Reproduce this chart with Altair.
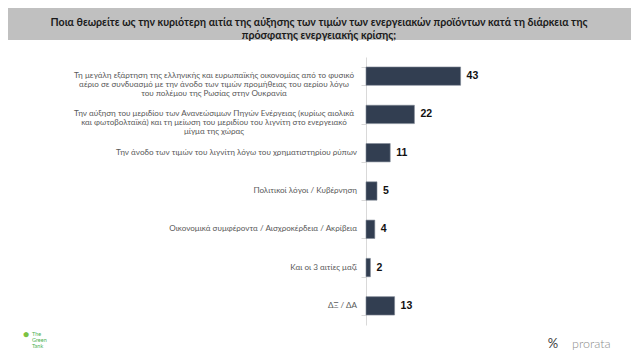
import altair as alt
import pandas as pd

categories = [
    "Τη μεγάλη εξάρτηση της ελληνικής και ευρωπαϊκής οικονομίας από το φυσικό\nαέριο σε συνδυασμό με την άνοδο των τιμών προμήθειας του αερίου λόγω\nτου πολέμου της Ρωσίας  στην Ουκρανία",
    "Την αύξηση του μεριδίου των  Ανανεώσιμων Πηγών Ενέργειας (κυρίως αιολικά\nκαι φωτοβολταϊκά)  και τη μείωση του μεριδίου του λιγνίτη στο  ενεργειακό\nμίγμα της χώρας",
    "Την άνοδο των τιμών του λιγνίτη λόγω του χρηματιστηρίου ρύπων",
    "Πολιτικοί λόγοι / Κυβέρνηση",
    "Οικονομικά συμφέροντα / Αισχροκέρδεια / Ακρίβεια",
    "Και οι 3 αιτίες μαζί",
    "ΔΞ / ΔΑ",
]
values = [43, 22, 11, 5, 4, 2, 13]
title_lines = [
    "Ποια θεωρείτε ως την  κυριότερη αιτία της αύξησης των τιμών των ενεργειακών προϊόντων κατά τη διάρκεια της",
    "πρόσφατης ενεργειακής κρίσης;",
]

df = pd.DataFrame({"label": categories, "value": values})
df["multi"] = df["label"].str.contains("\n")

W, H = 110, 268

y_enc = alt.Y(
    "label:N",
    sort=categories,
    scale=alt.Scale(paddingInner=0.52, paddingOuter=0.26),
    axis=alt.Axis(labels=False, title=None, domainColor="#d9d9d9", tickColor="#d9d9d9",
                  tickBand="extent", tickSize=5, grid=False, domainWidth=1),
)
x_enc = alt.X("value:Q", scale=alt.Scale(domain=[0, 50]), axis=None)

base = alt.Chart(df)

bars = base.mark_bar(color="#323e51", stroke="#7d8694", strokeWidth=0.6).encode(x=x_enc, y=y_enc)

val_text = base.mark_text(
    align="left", baseline="middle", dx=6, font="Liberation Sans", fontWeight="bold",
    fontSize=10.5, color="#111111"
).encode(x=x_enc, y=y_enc, text="value:Q")

lab_single = base.transform_filter("!datum.multi").mark_text(
    align="right", baseline="middle", font="Lato", fontSize=8.1, color="#595959"
).encode(x=alt.value(-9), y=y_enc, text="label:N")

lab_multi = base.transform_filter("datum.multi").mark_text(
    align="center", baseline="middle", font="Lato", fontSize=8.1, color="#595959",
    lineBreak="\n", lineHeight=9
).encode(x=alt.value(-152), y=y_enc, text="label:N")

one = alt.Chart(pd.DataFrame({"k": [0]}))

banner = one.mark_rect(color="#c0c0c0").encode(
    x=alt.value(-358), x2=alt.value(267), y=alt.value(-49), y2=alt.value(-17)
)
title = one.mark_text(
    text=title_lines, align="center", baseline="middle", font="Lato", fontWeight="bold",
    fontSize=10.6, color="#1a1a1a", lineHeight=13
).encode(x=alt.value(-47), y=alt.value(-34))

green = one.mark_text(
    text=["The", "Green", "Tank"], align="left", baseline="middle", font="Lato",
    fontSize=5.5, color="#4caf50", lineHeight=5.8
).encode(x=alt.value(-334), y=alt.value(277))
green_mark = one.mark_text(
    text="●", align="center", baseline="middle", fontSize=12, color="#7cc242"
).encode(x=alt.value(-340), y=alt.value(277))

pct = one.mark_text(
    text="%", align="center", baseline="middle", font="Lato", fontSize=13, color="#404040"
).encode(x=alt.value(187), y=alt.value(287))
prorata = one.mark_text(
    text="prorata", align="left", baseline="middle", font="Lato", fontWeight=300,
    fontSize=12.5, color="#8c8c8c"
).encode(x=alt.value(206), y=alt.value(287))

chart = alt.layer(
    banner, title, bars, val_text, lab_single, lab_multi, green_mark, green, pct, prorata
).properties(
    width=W, height=H,
    autosize=alt.AutoSizeParams(type="none"),
    padding={"left": 358, "top": 49, "right": 155, "bottom": 27},
    background="white",
).configure_view(stroke=None)

chart.save("out.html", embed_options={"renderer": "svg", "actions": False})
